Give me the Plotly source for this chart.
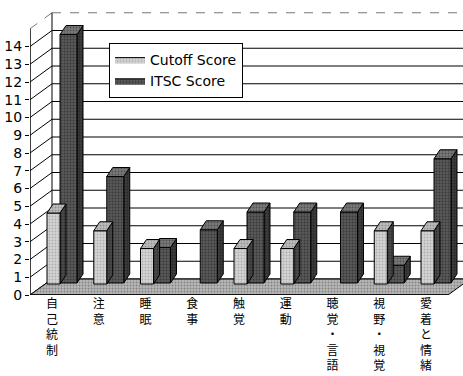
import plotly.graph_objects as go

# ---- data -------------------------------------------------------------
categories = ["自己統制", "注意", "睡眠", "食事", "触覚", "運動",
              "聴覚・言語", "視野・視覚", "愛着と情緒"]
cutoff_score = [4, 3, 2, 0, 2, 2, 0, 3, 3]
itsc_score = [14, 6, 2, 3, 4, 4, 4, 1, 7]
y_ticks = list(range(0, 15))
series_names = ["Cutoff Score", "ITSC Score"]

# ---- page geometry (pixels) -------------------------------------------
W, H = 463, 376
ML, MR, MT, MB = 30, 0, 5, 81
FIRST_CAT_PX = 52      # horizontal pixel of the first category label
CAT_PX = 46.75         # pixels between categories
UNIT_PX = 17.75        # pixels per score unit


def ux(px):
    """horizontal pixel distance -> x data units"""
    return px / CAT_PX


def uy(px):
    """vertical pixel distance -> y data units"""
    return px / UNIT_PX


x_range = [ux(ML - FIRST_CAT_PX), ux(W - MR - FIRST_CAT_PX)]
y_range = [0, uy(H - MB - MT)]

# pseudo-3D depth of the walls/floor and of each column
WALL_DX, WALL_DY = ux(22), uy(16)
BAR_DX, BAR_DY = ux(6), uy(9)
AXIS_TOP = 15

x_front = x_range[0]
x_back = x_front + WALL_DX
x_floor_right = ux(448 - FIRST_CAT_PX)

# column placement inside a category: (left offset, right offset, base lift)
col_cutoff = (ux(-5), ux(8), uy(11))
col_itsc = (ux(8), ux(25), uy(12))


def faces(values, placement):
    """front, top and right-side polygons of every column (None-separated)"""
    left, right, base = placement
    fx, fy, tx, ty, sx, sy = [], [], [], [], [], []
    for i, v in enumerate(values):
        if v <= 0:
            continue
        x0, x1 = i + left, i + right
        b, t = base, base + v
        fx += [x0, x1, x1, x0, x0, None]
        fy += [b, b, t, t, b, None]
        tx += [x0, x1, x1 + BAR_DX, x0 + BAR_DX, x0, None]
        ty += [t, t, t + BAR_DY, t + BAR_DY, t, None]
        sx += [x1, x1 + BAR_DX, x1 + BAR_DX, x1, x1, None]
        sy += [b, b + BAR_DY, t + BAR_DY, t, b, None]
    return (fx, fy), (tx, ty), (sx, sy)


def poly(xy, color, dots, name=None, legend=False, rank=None):
    return go.Scatter(
        x=xy[0], y=xy[1], mode="lines", fill="toself",
        fillcolor=color,
        fillpattern=dict(shape=".", bgcolor=color, fgcolor=dots,
                         size=3, solidity=0.35),
        line=dict(color="black", width=1),
        name=name, showlegend=legend, legendrank=rank,
        hoverinfo="skip",
    )


fig = go.Figure()

# floor slab
fig.add_trace(poly(
    ([x_front, x_floor_right, x_floor_right + WALL_DX, x_back, x_front],
     [0, 0, WALL_DY, WALL_DY, 0]),
    "#b8b8b8", "#505050"))

# ITSC columns (behind), then cutoff columns (in front)
front, top, side = faces(itsc_score, col_itsc)
fig.add_trace(poly(side, "#3c3c3c", "#111111"))
fig.add_trace(poly(front, "#585858", "#1a1a1a", series_names[1], True, 2))
fig.add_trace(poly(top, "#7a7a7a", "#2a2a2a"))

front, top, side = faces(cutoff_score, col_cutoff)
fig.add_trace(poly(side, "#4a4a4a", "#151515"))
fig.add_trace(poly(front, "#d4d4d4", "#8a8a8a", series_names[0], True, 1))
fig.add_trace(poly(top, "#bdbdbd", "#6a6a6a"))

# walls: back-wall grid, side-wall diagonals, edges
shapes = []
for v in range(0, AXIS_TOP + 1):
    edge = v == AXIS_TOP
    shapes.append(dict(type="line", xref="x", yref="y", layer="below",
                       x0=x_back, x1=x_range[1] + 1,
                       y0=v + WALL_DY, y1=v + WALL_DY,
                       line=dict(color="#777" if edge else "black",
                                 width=1.2, dash="dash" if edge else "solid")))
    shapes.append(dict(type="line", xref="x", yref="y", layer="below",
                       x0=x_front, x1=x_back, y0=v, y1=v + WALL_DY,
                       line=dict(color="#777" if edge else "black",
                                 width=1, dash="dash" if edge else "solid")))
shapes.append(dict(type="line", xref="x", yref="y", layer="below",
                   x0=x_back, x1=x_back, y0=WALL_DY, y1=AXIS_TOP + WALL_DY,
                   line=dict(color="black", width=1)))
shapes.append(dict(type="line", xref="x", yref="y", layer="above",
                   x0=x_front, x1=x_front, y0=0, y1=AXIS_TOP,
                   line=dict(color="black", width=1.5)))
shapes.append(dict(type="line", xref="x", yref="y", layer="above",
                   x0=x_front, x1=x_floor_right, y0=0, y1=0,
                   line=dict(color="black", width=1.5)))

fig.update_layout(
    width=W, height=H,
    margin=dict(l=ML, r=MR, t=MT, b=MB, autoexpand=False),
    paper_bgcolor="white", plot_bgcolor="white",
    shapes=shapes,
    showlegend=True,
    legend=dict(
        x=(109 - ML) / (W - ML - MR), y=(H - MB - 43) / (H - MB - MT),
        xanchor="left", yanchor="top",
        bgcolor="white", bordercolor="black", borderwidth=1,
        font=dict(family="DejaVu Sans", size=14, color="black"),
        itemwidth=30, tracegroupgap=0,
    ),
    xaxis=dict(
        range=x_range, showgrid=False, zeroline=False, showline=False,
        tickmode="array", tickvals=list(range(len(categories))),
        ticktext=["<br>".join(c) for c in categories],
        ticks="", tickfont=dict(family="Noto Sans CJK JP", size=12,
                                color="black"),
        fixedrange=True,
    ),
    yaxis=dict(
        range=y_range, showgrid=False, zeroline=False, showline=False,
        tickmode="array", tickvals=y_ticks,
        ticktext=[str(v) for v in y_ticks],
        ticks="outside", ticklen=4, tickcolor="black",
        tickfont=dict(family="DejaVu Sans", size=14, color="black"),
        fixedrange=True,
    ),
)

fig.write_html("out.html")
